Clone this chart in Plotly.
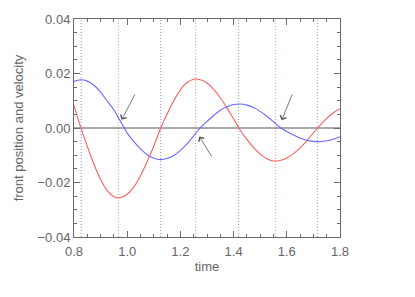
import plotly.graph_objects as go

time = [0.800, 0.825, 0.850, 0.875, 0.900, 0.925, 0.950, 0.975, 1.000, 1.025,
        1.050, 1.075, 1.100, 1.125, 1.150, 1.175, 1.200, 1.225, 1.250, 1.275,
        1.300, 1.325, 1.350, 1.375, 1.400, 1.425, 1.450, 1.475, 1.500, 1.525,
        1.550, 1.575, 1.600, 1.625, 1.650, 1.675, 1.700, 1.725, 1.750, 1.775, 1.800]

position = [0.0083, 0.0003, -0.0068, -0.0133, -0.0189, -0.0230, -0.0252, -0.0256, -0.0243, -0.0216,
            -0.0175, -0.0124, -0.0066, -0.0003, 0.0051, 0.0100, 0.0140, 0.0167, 0.0179, 0.0177,
            0.0165, 0.0142, 0.0111, 0.0074, 0.0033, -0.0008, -0.0042, -0.0072, -0.0096, -0.0113,
            -0.0121, -0.0119, -0.0110, -0.0094, -0.0073, -0.0047, -0.0018, 0.0010, 0.0035, 0.0056, 0.0071]

velocity = [0.0171, 0.0177, 0.0172, 0.0157, 0.0132, 0.0099, 0.0066, 0.0024, -0.0019, -0.0050,
            -0.0077, -0.0098, -0.0111, -0.0116, -0.0112, -0.0101, -0.0082, -0.0058, -0.0029, 0.0001,
            0.0024, 0.0046, 0.0065, 0.0078, 0.0086, 0.0088, 0.0084, 0.0075, 0.0061, 0.0043,
            0.0023, 0.0002, -0.0013, -0.0026, -0.0037, -0.0045, -0.0049, -0.0050, -0.0047, -0.0041, -0.0032]

velocity_extrema_times = [0.827, 1.126, 1.419, 1.715]
position_extrema_times = [0.967, 1.257, 1.557]

# arrows: (tail_t, tail_v, tip_t, tip_v)
arrows = [
    (1.032, 0.0128, 0.979, 0.0030),
    (1.321, -0.0110, 1.271, -0.0031),
    (1.622, 0.0128, 1.581, 0.0028),
]

RED = "rgb(255,95,95)"
BLUE = "rgb(105,105,255)"
GRAY = "#6a6a6a"
TEXT = "#666666"
FONT = "Liberation Sans, Arial, sans-serif"

fig = go.Figure()

fig.add_trace(go.Scatter(x=time, y=position, mode="lines", line=dict(color=RED, width=1.1, shape="spline"),
                         showlegend=False))
fig.add_trace(go.Scatter(x=time, y=velocity, mode="lines", line=dict(color=BLUE, width=1.1, shape="spline"),
                         showlegend=False))

for t in velocity_extrema_times:
    fig.add_vline(x=t, line=dict(color="rgba(120,120,255,0.85)", width=1, dash="1px,2px"), layer="below")
for t in position_extrema_times:
    fig.add_vline(x=t, line=dict(color="rgba(255,120,120,0.85)", width=1, dash="1px,2px"), layer="below")

fig.add_hline(y=0, line=dict(color="#8c8c8c", width=1.5), layer="below")

for (tx, ty, hx, hy) in arrows:
    fig.add_annotation(x=hx, y=hy, ax=tx, ay=ty, xref="x", yref="y", axref="x", ayref="y",
                       text="", showarrow=True, arrowhead=4, arrowsize=1.6, arrowwidth=0.8,
                       arrowcolor="#555555")

axis_common = dict(
    showline=True, linecolor=GRAY, linewidth=1, mirror="allticks",
    ticks="inside", ticklen=6, tickcolor=GRAY, tickwidth=1,
    showgrid=False, zeroline=False, automargin=False,
    tickfont=dict(family=FONT, size=13, color=TEXT),
)

fig.update_xaxes(range=[0.8, 1.8], dtick=0.2, tick0=0.8, tickformat=".1f", ticklabelstandoff=2,
                 minor=dict(ticks="inside", dtick=0.05, ticklen=3, tickcolor=GRAY, showgrid=False),
                 title=dict(text="time", font=dict(family=FONT, size=13, color=TEXT), standoff=4),
                 **axis_common)
fig.update_yaxes(range=[-0.04, 0.04], dtick=0.02, tickformat=".2f",
                 minor=dict(ticks="inside", dtick=0.005, ticklen=3, tickcolor=GRAY, showgrid=False),
                 title=dict(text="front position and velocity",
                            font=dict(family=FONT, size=13, color=TEXT), standoff=10),
                 **axis_common)

fig.update_layout(width=407, height=289, margin=dict(l=66, r=75, t=11, b=60),
                  paper_bgcolor="white", plot_bgcolor="white")

fig.write_html("out.html")
